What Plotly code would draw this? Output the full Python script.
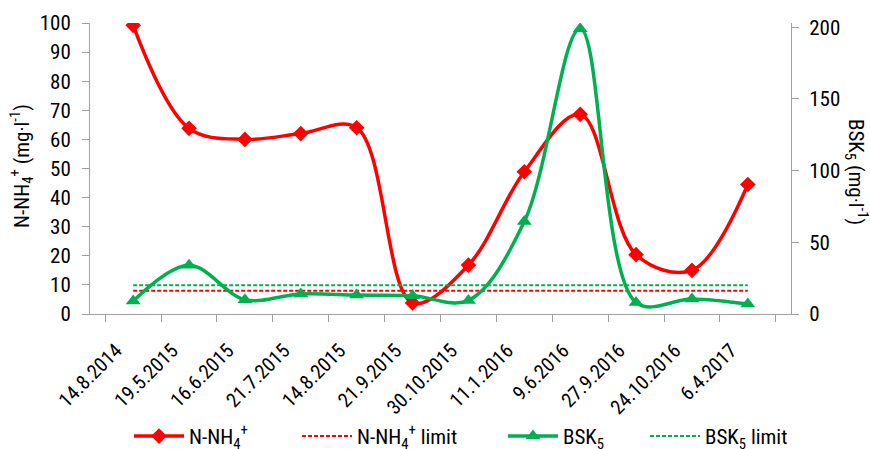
import plotly.graph_objects as go

dates = ["14.8.2014", "19.5.2015", "16.6.2015", "21.7.2015", "14.8.2015", "21.9.2015",
         "30.10.2015", "11.1.2016", "9.6.2016", "27.9.2016", "24.10.2016", "6.4.2017"]
nh4 = [99.2, 63.8, 60, 62, 64, 3.8, 16.8, 48.9, 68.6, 20.4, 15, 44.5]
bsk5 = [9, 34, 10, 14, 13.2, 12.8, 9.5, 64.5, 199, 8, 10.5, 7]
nh4_limit = [8] * len(dates)
bsk5_limit = [20] * len(dates)

RED = "#FF0000"
GREEN = "#00B050"
AXC = "#A0A0A0"
FONT = "Roboto Condensed, DejaVu Sans Condensed, Liberation Sans, sans-serif"
FS = 21

fig = go.Figure()
fig.add_trace(go.Scatter(x=dates, y=nh4, name="N-NH<sub>4</sub><sup>+</sup>", mode="lines+markers",
                         legend="legend",
                         line=dict(color=RED, width=3.5, shape="spline", smoothing=1.0),
                         marker=dict(symbol="diamond", size=12, color=RED)))
fig.add_trace(go.Scatter(x=dates, y=nh4_limit, name="N-NH<sub>4</sub><sup>+</sup> limit", mode="lines",
                         legend="legend2",
                         line=dict(color=RED, width=2, dash="4px,2px")))
fig.add_trace(go.Scatter(x=dates, y=bsk5, name="BSK<sub>5</sub>", mode="lines+markers", yaxis="y2",
                         legend="legend3",
                         line=dict(color=GREEN, width=3.5, shape="spline", smoothing=1.0),
                         marker=dict(symbol="triangle-up", size=13, color=GREEN)))
fig.add_trace(go.Scatter(x=dates, y=bsk5_limit, name="BSK<sub>5</sub> limit", mode="lines", yaxis="y2",
                         legend="legend4",
                         line=dict(color=GREEN, width=2, dash="4px,2px")))


def leg(px):
    return dict(orientation="h", x=px / 870, xanchor="left", xref="container",
                y=0.028, yanchor="middle", yref="container", itemwidth=50,
                bgcolor="rgba(0,0,0,0)", font=dict(size=FS, family=FONT))


fig.update_layout(
    width=870, height=449,
    margin=dict(l=90, r=79, t=23, b=135),
    paper_bgcolor="white", plot_bgcolor="white",
    font=dict(family=FONT, size=FS, color="#000000"),
    showlegend=True,
    legend=leg(129), legend2=leg(297), legend3=leg(503), legend4=leg(645),
    xaxis=dict(type="category", tickson="boundaries", ticks="outside", ticklen=7,
               tickcolor=AXC, showline=True, linecolor=AXC, linewidth=1, automargin=False,
               showgrid=False, tickangle=-45, tickfont=dict(size=20, family=FONT), zeroline=False,
               ticklabelstandoff=16, ticklabelshift=-17),
    yaxis=dict(range=[0, 100], dtick=10, ticks="outside", ticklen=7, tickcolor=AXC,
               showline=True, linecolor=AXC, linewidth=1, showgrid=False, zeroline=False,
               automargin=False, ticklabelstandoff=7, tickfont=dict(size=FS, family=FONT)),
    yaxis2=dict(range=[0, 203], tickvals=[0, 50, 100, 150, 200], overlaying="y", side="right",
                ticks="outside", ticklen=7, tickcolor=AXC, showline=True, linecolor=AXC,
                linewidth=1, showgrid=False, zeroline=False, automargin=False,
                ticklabelstandoff=6, tickfont=dict(size=FS, family=FONT)),
    annotations=[
        dict(text="N-NH<sub>4</sub><sup>+</sup> (mg·l<sup>-1</sup>)", textangle=-90, showarrow=False,
             xref="paper", yref="paper", x=(21 - 90) / 701, y=(314 - 166) / 291,
             xanchor="center", yanchor="middle", font=dict(size=FS, family=FONT)),
        dict(text="BSK<sub>5</sub> (mg·l<sup>-1</sup>)", textangle=90, showarrow=False,
             xref="paper", yref="paper", x=(857 - 90) / 701, y=(314 - 172) / 291,
             xanchor="center", yanchor="middle", font=dict(size=FS, family=FONT)),
    ],
)

fig.write_html("out.html", config={"displayModeBar": False},
               post_script="document.body.style.margin='0';document.body.style.padding='0';")
